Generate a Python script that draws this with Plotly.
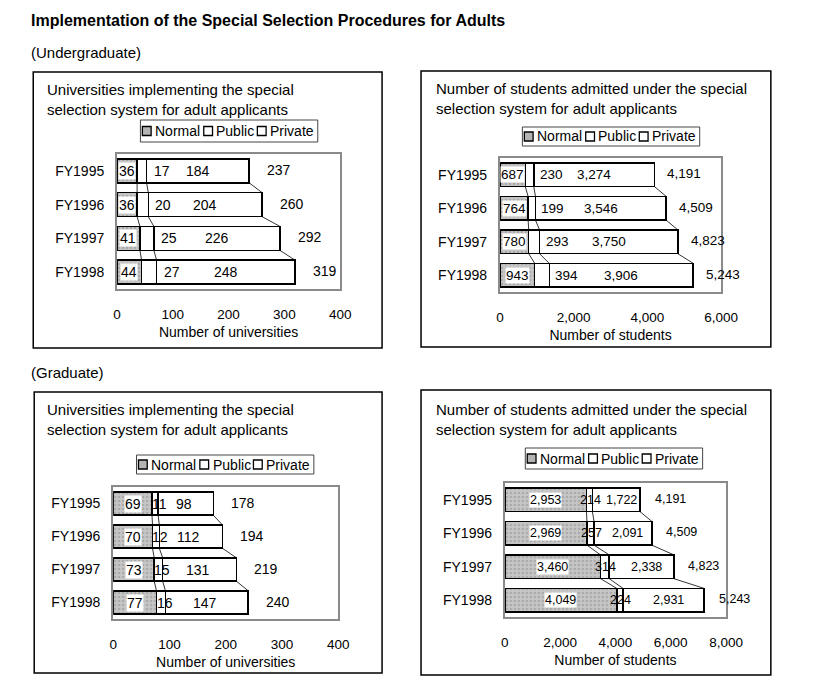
import plotly.graph_objects as go

# ---------------- data ----------------
years = ["FY1995", "FY1996", "FY1997", "FY1998"]
series_names = ["Normal", "Public", "Private"]

ug_univ_normal = [36, 36, 41, 44]
ug_univ_public = [17, 20, 25, 27]
ug_univ_private = [184, 204, 226, 248]
ug_univ_total = [237, 260, 292, 319]

ug_stud_normal = [687, 764, 780, 943]
ug_stud_public = [230, 199, 293, 394]
ug_stud_private = [3274, 3546, 3750, 3906]
ug_stud_total = [4191, 4509, 4823, 5243]

gr_univ_normal = [69, 70, 73, 77]
gr_univ_public = [11, 12, 15, 16]
gr_univ_private = [98, 112, 131, 147]
gr_univ_total = [178, 194, 219, 240]

gr_stud_normal = [2953, 2969, 3460, 4049]
gr_stud_public = [214, 257, 314, 224]
gr_stud_private = [1722, 2091, 2338, 2931]
gr_stud_total = [4191, 4509, 4823, 5243]

univ_ticks = [0, 100, 200, 300, 400]
ug_stud_ticks = [0, 2000, 4000, 6000]
gr_stud_ticks = [0, 2000, 4000, 6000, 8000]

title_univ = "Universities implementing the special<br>selection system for adult applicants"
title_stud = "Number of students admitted under the special<br>selection system for adult applicants"
axis_univ = "Number of universities"
axis_stud = "Number of students"

# ---------------- layout helpers ----------------
W, H = 820, 695
FONT = "Liberation Sans, Arial, sans-serif"


def px(x):
    return x / W


def py(y):
    return 1 - y / H


panels = [
    dict(data=(ug_univ_normal, ug_univ_public, ug_univ_private, ug_univ_total),
         ticks=univ_ticks, rng=400, comma=False, xbox=(116, 345), ybox=(154, 289),
         frame=(30, 72, 388, 348), title=title_univ, tpos=(42, 79),
         axis=axis_univ, legpos=(140, 120, 22), pub_mode="left", pub_shift=5,
         lab_size=14, priv_shift=0),
    dict(data=(ug_stud_normal, ug_stud_public, ug_stud_private, ug_stud_total),
         ticks=ug_stud_ticks, rng=6000, comma=True, xbox=(509, 736), ybox=(158, 292),
         frame=(428, 71, 787, 347), title=title_stud, tpos=(441, 78),
         axis=axis_stud, legpos=(532, 127, 19), pub_mode="left", pub_shift=4,
         lab_size=13.5, priv_shift=0),
    dict(data=(gr_univ_normal, gr_univ_public, gr_univ_private, gr_univ_total),
         ticks=univ_ticks, rng=400, comma=False, xbox=(112, 343), ybox=(487, 619),
         frame=(31, 392, 388, 673), title=title_univ, tpos=(42, 399),
         axis=axis_univ, legpos=(136, 455, 19), pub_mode="center", pub_shift=4,
         lab_size=14, priv_shift=-2),
    dict(data=(gr_stud_normal, gr_stud_public, gr_stud_private, gr_stud_total),
         ticks=gr_stud_ticks, rng=8000, comma=True, xbox=(514, 741), ybox=(483, 617),
         frame=(428, 390, 787, 675), title=title_stud, tpos=(441, 399),
         axis=axis_stud, legpos=(535, 448, 21), pub_mode="center", pub_shift=1,
         lab_size=12.5, priv_shift=5),
]

NORMAL_FILL = "#bdbdbd"
fills = [
    dict(color=NORMAL_FILL, pattern=dict(shape=".", fgcolor="#8c8c8c", bgcolor="#c6c6c6",
                                         size=4, solidity=0.3)),
    dict(color="white"),
    dict(color="white"),
]
legend_sq_fill = ["#b4b4b4", "white", "white"]
legend_offsets = [2, 65, 120]   # square positions inside the legend box (px)
LEG_W = 182
SQ = 9

fig = go.Figure()
shapes = []
annotations = []
layout_extra = {}

BAR_HALF = 0.355

for k, p in enumerate(panels, start=1):
    xa = "x" if k == 1 else f"x{k}"
    ya = "y" if k == 1 else f"y{k}"
    normal, public, private, total = p["data"]

    for name, vals, fill in zip(series_names, (normal, public, private), fills):
        marker = dict(line=dict(color="black", width=1.5))
        marker.update(fill)
        fig.add_trace(go.Bar(
            y=years, x=vals, name=name, orientation="h", marker=marker,
            xaxis=xa, yaxis=ya, showlegend=False, hoverinfo="skip",
        ))

    # axes
    xkey = "xaxis" if k == 1 else f"xaxis{k}"
    ykey = "yaxis" if k == 1 else f"yaxis{k}"
    layout_extra[xkey] = dict(
        domain=[px(p["xbox"][0]), px(p["xbox"][1])], anchor=ya,
        range=[0, p["rng"]], tickvals=p["ticks"],
        ticktext=[f"{t:,}" if p["comma"] else str(t) for t in p["ticks"]],
        showgrid=False, zeroline=False, showline=True, mirror=True,
        linecolor="#8a8a8a", linewidth=2, ticks="outside", ticklen=12,
        tickcolor="rgba(0,0,0,0)", tickfont=dict(size=13.5, color="black", family=FONT),
        title=dict(text=p["axis"], font=dict(size=14, color="black", family=FONT), standoff=6),
        fixedrange=True,
    )
    layout_extra[ykey] = dict(
        domain=[py(p["ybox"][1]), py(p["ybox"][0])], anchor=xa,
        type="category", categoryorder="array", categoryarray=years,
        autorange="reversed", showgrid=False, zeroline=False, showline=True,
        mirror=True, linecolor="#8a8a8a", linewidth=2, ticks="outside", ticklen=8,
        tickcolor="rgba(0,0,0,0)", tickfont=dict(size=14, color="black", family=FONT),
        fixedrange=True,
    )

    # panel frame
    x0, y0, x1, y1 = p["frame"]
    shapes.append(dict(type="rect", xref="paper", yref="paper",
                       x0=px(x0), x1=px(x1), y0=py(y1), y1=py(y0),
                       line=dict(color="black", width=1.5), fillcolor="rgba(0,0,0,0)",
                       layer="below"))
    # panel title
    annotations.append(dict(text=p["title"], xref="paper", yref="paper",
                            x=px(p["tpos"][0]), y=py(p["tpos"][1]), xanchor="left",
                            yanchor="top", showarrow=False, align="left",
                            font=dict(size=15, color="black", family=FONT)))

    # legend box (drawn like the original Excel legend)
    lx, ly, lh = p["legpos"]
    shapes.append(dict(type="rect", xref="paper", yref="paper",
                       x0=px(lx), x1=px(lx + LEG_W), y0=py(ly + lh), y1=py(ly),
                       line=dict(color="#444", width=1), fillcolor="white"))
    cy = ly + lh / 2
    for name, off, sqc in zip(series_names, legend_offsets, legend_sq_fill):
        sx = lx + off
        shapes.append(dict(type="rect", xref="paper", yref="paper",
                           x0=px(sx), x1=px(sx + SQ), y0=py(cy + SQ / 2), y1=py(cy - SQ / 2),
                           line=dict(color="black", width=1.3), fillcolor=sqc))
        annotations.append(dict(text=name, xref="paper", yref="paper",
                                x=px(sx + SQ + 2), y=py(cy), xanchor="left",
                                yanchor="middle", showarrow=False,
                                font=dict(size=14, color="black", family=FONT)))

    # series lines between bars
    for i in range(len(years) - 1):
        ends_a = [normal[i], normal[i] + public[i], normal[i] + public[i] + private[i]]
        ends_b = [normal[i + 1], normal[i + 1] + public[i + 1],
                  normal[i + 1] + public[i + 1] + private[i + 1]]
        for ea, eb in zip(ends_a, ends_b):
            shapes.append(dict(type="line", xref=xa, yref=ya, x0=ea, x1=eb,
                               y0=i + BAR_HALF, y1=i + 1 - BAR_HALF,
                               line=dict(color="black", width=0.8)))

    fmt = (lambda v: f"{v:,}") if p["comma"] else (lambda v: str(v))
    lab_font = dict(size=p["lab_size"], color="black", family=FONT)
    for i, yr in enumerate(years):
        n, pu, pr, tot = normal[i], public[i], private[i], total[i]
        annotations.append(dict(text=fmt(n), xref=xa, yref=ya, x=n / 2, y=yr,
                                showarrow=False, xanchor="center", bgcolor="white",
                                borderpad=0, font=lab_font))
        if p["pub_mode"] == "left":
            annotations.append(dict(text=fmt(pu), xref=xa, yref=ya, x=n + pu, y=yr,
                                    showarrow=False, xanchor="left",
                                    xshift=p["pub_shift"], font=lab_font))
        else:
            annotations.append(dict(text=fmt(pu), xref=xa, yref=ya, x=n + pu / 2, y=yr,
                                    showarrow=False, xanchor="center",
                                    xshift=p["pub_shift"], font=lab_font))
        annotations.append(dict(text=fmt(pr), xref=xa, yref=ya, x=n + pu + pr / 2, y=yr,
                                showarrow=False, xanchor="center",
                                xshift=p["priv_shift"], font=lab_font))
        annotations.append(dict(text=fmt(tot), xref=xa, yref=ya, x=n + pu + pr, y=yr,
                                showarrow=False, xanchor="center", xshift=30,
                                yshift=1, font=lab_font))

# page-level texts
annotations.append(dict(text="<b>Implementation of the Special Selection Procedures for Adults</b>",
                        xref="paper", yref="paper", x=px(26), y=py(21), xanchor="left",
                        yanchor="middle", showarrow=False,
                        font=dict(size=16, color="black", family=FONT)))
annotations.append(dict(text="(Undergraduate)", xref="paper", yref="paper", x=px(26), y=py(52),
                        xanchor="left", yanchor="middle", showarrow=False,
                        font=dict(size=15, color="black", family=FONT)))
annotations.append(dict(text="(Graduate)", xref="paper", yref="paper", x=px(26), y=py(373),
                        xanchor="left", yanchor="middle", showarrow=False,
                        font=dict(size=15, color="black", family=FONT)))

fig.update_layout(
    width=W, height=H, margin=dict(l=0, r=0, t=0, b=0),
    paper_bgcolor="white", plot_bgcolor="white",
    barmode="stack", bargap=0.29, showlegend=False,
    font=dict(family=FONT, color="black"),
    shapes=shapes, annotations=annotations,
    **layout_extra,
)

fig.write_html("out.html", config={"displayModeBar": False},
               post_script="document.body.style.margin='0px';document.body.style.overflow='hidden';")
